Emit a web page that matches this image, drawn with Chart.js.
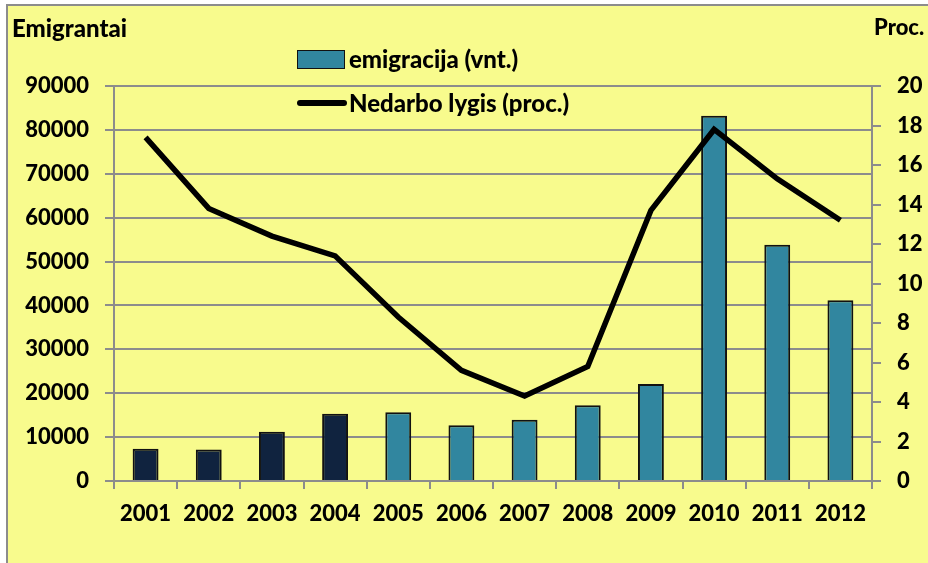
<!DOCTYPE html>
<html>
<head>
<meta charset="utf-8">
<script src="https://cdn.jsdelivr.net/npm/chart.js@4/dist/chart.umd.min.js"></script>
<style>
  html, body { margin: 0; padding: 0; background: #fff; }
  #wrap { position: relative; width: 928px; height: 563px; overflow: hidden; }
  #frame {
    position: absolute; left: 6px; top: 4px; width: 940px; height: 580px;
    background: #f8fb8d; border: 2px solid #8c8c8c;
  }
  canvas { position: absolute; left: 0; top: 0; }
  .lbl {
    position: absolute; font-family: Lato, sans-serif; font-weight: 900;
    font-size: 24px; color: #000; white-space: nowrap; line-height: 1;
  }
  .key { position: absolute; }
</style>
</head>
<body>
<div id="wrap">
  <div id="frame"></div>
  <canvas id="chart" width="928" height="563"></canvas>
  <div class="lbl" style="left:12px; top:16px;">Emigrantai</div>
  <div class="lbl" style="left:874px; top:16px; font-size:22px;">Proc.</div>
  <div class="key" style="left:297px; top:50px; width:46px; height:17px; background:#31869f; border:1px solid #111;"></div>
  <div class="lbl" style="left:349px; top:47px;">emigracija (vnt.)</div>
  <div class="key" style="left:297px; top:100px; width:50px; height:6px; background:#000; border-radius:3px;"></div>
  <div class="lbl" style="left:349px; top:91px;">Nedarbo lygis (proc.)</div>
</div>
<script>
  // ── 資料 ─────────────────────────────────────────────
  const YEARS       = ["2001", "2002", "2003", "2004", "2005", "2006",
                       "2007", "2008", "2009", "2010", "2011", "2012"];
  const EMIGRATION  = [7350, 7200, 11200, 15300, 15650, 12700,
                       13950, 17250, 22100, 83200, 53850, 41200];
  const UNEMPLOYED  = [17.4, 13.8, 12.4, 11.4, 8.3, 5.6,
                       4.3, 5.8, 13.7, 17.8, 15.3, 13.2];
  const NAVY_YEARS  = 4;   // 前四年深藍

  const NAVY = "#10233f";
  const TEAL = "#31869f";
  const GRID = "#8c8c8c";
  const FONT = { family: "Lato, sans-serif", size: 22, weight: "900" };

  const barColors = YEARS.map((_, i) => i < NAVY_YEARS ? NAVY : TEAL);

  new Chart(document.getElementById("chart").getContext("2d"), {
    type: "bar",
    data: {
      labels: YEARS,
      datasets: [
        {
          type: "line",
          label: "Nedarbo lygis (proc.)",
          data: UNEMPLOYED,
          yAxisID: "yProc",
          borderColor: "#000",
          borderWidth: 5.5,
          pointRadius: 0,
          tension: 0,
          borderJoinStyle: "miter",
          order: 1,
        },
        {
          label: "emigracija (vnt.)",
          data: EMIGRATION,
          yAxisID: "yEmig",
          backgroundColor: barColors,
          borderColor: "#111",
          borderWidth: 2,
          barPercentage: 0.41,
          categoryPercentage: 1,
          order: 2,
        },
      ],
    },
    options: {
      responsive: false,
      animation: false,
      layout: { padding: { top: 86, left: 0, right: 0, bottom: 0 } },
      plugins: { legend: { display: false }, tooltip: { enabled: false } },
      scales: {
        x: {
          offset: true,
          grid: { offset: true, drawOnChartArea: false, color: GRID, lineWidth: 2, tickLength: 8 },
          border: { color: GRID, width: 2 },
          ticks: { color: "#000", font: FONT, padding: 12, maxRotation: 0 },
          afterFit: s => { s.height = 82; },
        },
        yEmig: {
          position: "left",
          min: 0, max: 90000,
          grid: { color: GRID, lineWidth: 2, tickLength: 9 },
          border: { color: GRID, width: 2 },
          ticks: { stepSize: 10000, color: "#000", font: FONT, padding: 16,
                   callback: v => String(v) },
          afterFit: s => { s.width = 114; },
        },
        yProc: {
          position: "right",
          min: 0, max: 20,
          grid: { drawOnChartArea: false, color: GRID, lineWidth: 2, tickLength: 9 },
          border: { color: GRID, width: 2 },
          ticks: { stepSize: 2, color: "#000", font: FONT, padding: 16 },
          afterFit: s => { s.width = 56; },
        },
      },
    },
  });
</script>
</body>
</html>
